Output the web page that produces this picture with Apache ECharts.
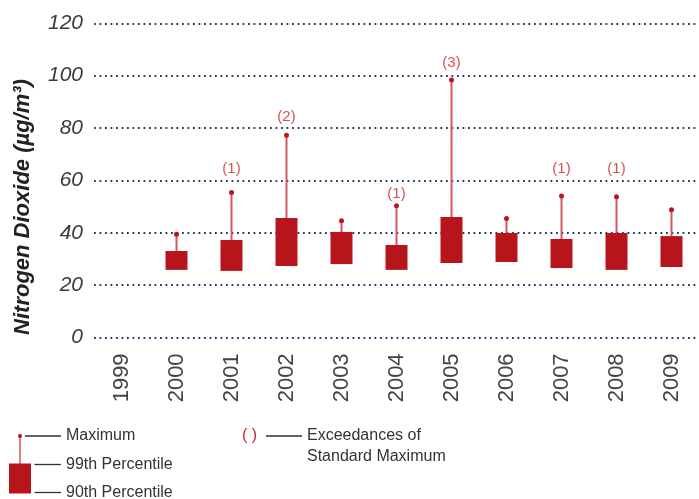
<!DOCTYPE html>
<html>
<head>
<meta charset="utf-8">
<script src="https://cdn.jsdelivr.net/npm/echarts@6/dist/echarts.min.js"></script>
<style>html,body{margin:0;padding:0;background:#fff;}#c{width:699px;height:499px;}</style>
</head>
<body>
<div id="c"></div>
<script>
const years = ['1999','2000','2001','2002','2003','2004','2005','2006','2007','2008','2009'];
const p90 = [null, 25.8, 25.4, 27.3, 28.0, 25.8, 28.4, 28.8, 26.5, 25.8, 26.9];
const p99 = [null, 33.0, 37.2, 45.6, 40.3, 35.3, 46.0, 39.9, 37.6, 39.9, 38.7];
const maxVals = [null, 39.4, 55.4, 77.2, 44.6, 50.3, 98.3, 45.4, 54.0, 53.7, 48.8];
const exceedances = [null, null, 1, 2, null, 1, 3, null, 1, 1, null];
const exceedanceLabelY = [null, null, 64.3, 84.1, null, 55.0, 104.7, null, 64.3, 64.3, null];
const yTicks = [0, 20, 40, 60, 80, 100, 120];

const boxData = [];
years.forEach((y, i) => { if (p90[i] != null) boxData.push([i, p90[i], p99[i], maxVals[i]]); });
const labelData = [];
years.forEach((y, i) => { if (exceedances[i] != null) labelData.push([i, exceedanceLabelY[i], '(' + exceedances[i] + ')']); });

const FONT = '"Liberation Sans", Arial, Helvetica, sans-serif';
const chart = echarts.init(document.getElementById('c'), null, {renderer: 'canvas'});
chart.setOption({
  animation: false,
  backgroundColor: '#fff',
  grid: {left: 94, right: -4, top: 23.3, bottom: 161.6, containLabel: false},
  xAxis: {
    type: 'category', data: years,
    axisLine: {show: false}, axisTick: {show: false},
    axisLabel: {rotate: 90, interval: 0, fontSize: 22, color: '#444', margin: 16, fontFamily: FONT, padding: [6, 0, 0, 0]}
  },
  yAxis: {
    type: 'value', min: yTicks[0], max: yTicks[yTicks.length - 1], interval: 20,
    axisLine: {show: false}, axisTick: {show: false},
    axisLabel: {fontSize: 21, fontStyle: 'italic', color: '#3a3a3a', margin: 11, fontFamily: FONT},
    splitLine: {lineStyle: {color: '#1f3a68', width: 2, type: [1.8, 3.7]}}
  },
  series: [
    {
      type: 'custom',
      data: boxData,
      encode: {x: 0, y: [1, 2, 3]},
      renderItem: function (params, api) {
        const x = api.value(0);
        const lo = api.coord([x, api.value(1)]);
        const hi = api.coord([x, api.value(2)]);
        const mx = api.coord([x, api.value(3)]);
        const w = api.size([1, 0])[0] * 0.4;
        return {type: 'group', children: [
          {type: 'line', shape: {x1: mx[0], y1: mx[1], x2: hi[0], y2: hi[1]}, style: {stroke: '#cf5a62', lineWidth: 2}},
          {type: 'rect', shape: {x: lo[0] - w / 2, y: hi[1], width: w, height: lo[1] - hi[1]}, style: {fill: '#b7141c'}},
          {type: 'circle', shape: {cx: mx[0], cy: mx[1], r: 2.5}, style: {fill: '#c0141c'}}
        ]};
      }
    },
    {
      type: 'scatter',
      data: labelData,
      symbolSize: 0,
      label: {show: true, position: 'inside', formatter: p => p.value[2], color: '#c8262e', fontSize: 15, fontFamily: FONT}
    }
  ],
  graphic: [
    {type: 'text', x: 23, y: 207, rotation: Math.PI / 2,
     style: {text: 'Nitrogen Dioxide (µg/m³)', font: 'italic bold 22px ' + FONT, fill: '#222', align: 'center', verticalAlign: 'middle'}},
    {type: 'line', shape: {x1: 20, y1: 436, x2: 20, y2: 464}, style: {stroke: '#cf5a62', lineWidth: 1.5}},
    {type: 'circle', shape: {cx: 20, cy: 436, r: 2}, style: {fill: '#c0141c'}},
    {type: 'rect', shape: {x: 9, y: 463.5, width: 22, height: 30}, style: {fill: '#b7141c'}},
    {type: 'line', shape: {x1: 25, y1: 436, x2: 61, y2: 436}, style: {stroke: '#333', lineWidth: 1.3}},
    {type: 'line', shape: {x1: 34.5, y1: 464.5, x2: 61, y2: 464.5}, style: {stroke: '#333', lineWidth: 1.3}},
    {type: 'line', shape: {x1: 34.5, y1: 492.5, x2: 61, y2: 492.5}, style: {stroke: '#333', lineWidth: 1.3}},
    {type: 'text', x: 66, y: 436, style: {text: 'Maximum', font: '16px ' + FONT, fill: '#333', verticalAlign: 'middle'}},
    {type: 'text', x: 66, y: 464.5, style: {text: '99th Percentile', font: '16px ' + FONT, fill: '#333', verticalAlign: 'middle'}},
    {type: 'text', x: 66, y: 492.5, style: {text: '90th Percentile', font: '16px ' + FONT, fill: '#333', verticalAlign: 'middle'}},
    {type: 'text', x: 242, y: 436, style: {text: '( )', font: '16px ' + FONT, fill: '#c8262e', verticalAlign: 'middle'}},
    {type: 'line', shape: {x1: 266, y1: 436, x2: 302, y2: 436}, style: {stroke: '#333', lineWidth: 1.3}},
    {type: 'text', x: 307, y: 436, style: {text: 'Exceedances of', font: '16px ' + FONT, fill: '#333', verticalAlign: 'middle'}},
    {type: 'text', x: 307, y: 456.5, style: {text: 'Standard Maximum', font: '16px ' + FONT, fill: '#333', verticalAlign: 'middle'}}
  ]
});
</script>
</body>
</html>
